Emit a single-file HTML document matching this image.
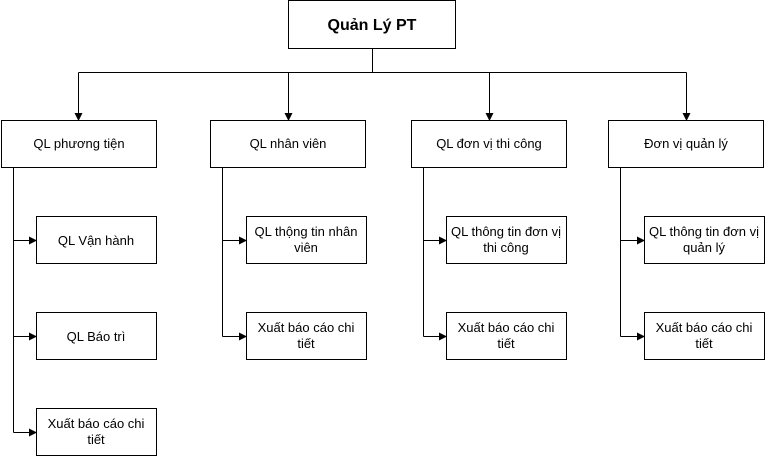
<!DOCTYPE html>
<html><head><meta charset="utf-8"><style>
html,body{margin:0;padding:0;background:#fff;}
svg text{font-family:"Liberation Sans",Arial,sans-serif;font-size:13px;fill:#000;}
</style></head><body>
<svg width="765" height="456" xmlns="http://www.w3.org/2000/svg">
<defs><marker id="a" markerWidth="8" markerHeight="8" refX="7" refY="4" orient="auto" markerUnits="userSpaceOnUse"><path d="M0,0 L8,4 L0,8 z" fill="#000"/></marker></defs>
<g fill="#fff" stroke="#000" stroke-width="1">
<rect x="288.5" y="0.5" width="167" height="48"/>
<rect x="1.5" y="120.5" width="155" height="47"/>
<rect x="210.5" y="120.5" width="155" height="47"/>
<rect x="411.5" y="120.5" width="155" height="47"/>
<rect x="608.5" y="120.5" width="155" height="47"/>
<rect x="36.5" y="216.5" width="120" height="47"/>
<rect x="36.5" y="312.5" width="120" height="47"/>
<rect x="36.5" y="408.5" width="120" height="47"/>
<rect x="246.5" y="216.5" width="120" height="47"/>
<rect x="246.5" y="312.5" width="120" height="47"/>
<rect x="446.5" y="216.5" width="120" height="47"/>
<rect x="446.5" y="312.5" width="120" height="47"/>
<rect x="644.5" y="216.5" width="120" height="47"/>
<rect x="644.5" y="312.5" width="120" height="47"/>
</g>
<g fill="none" stroke="#000" stroke-width="1">
<path d="M372.5 49V72.5M78.5 72.5H686.5"/>
<path d="M78.5 72.5V120" marker-end="url(#a)"/>
<path d="M288.5 72.5V120" marker-end="url(#a)"/>
<path d="M489.5 72.5V120" marker-end="url(#a)"/>
<path d="M686.5 72.5V120" marker-end="url(#a)"/>
<path d="M13.5 168V432.5"/>
<path d="M13.5 240.5H36" marker-end="url(#a)"/>
<path d="M13.5 336.5H36" marker-end="url(#a)"/>
<path d="M13.5 432.5H36" marker-end="url(#a)"/>
<path d="M222.5 168V336.5"/>
<path d="M222.5 240.5H246" marker-end="url(#a)"/>
<path d="M222.5 336.5H246" marker-end="url(#a)"/>
<path d="M423.5 168V336.5"/>
<path d="M423.5 240.5H446" marker-end="url(#a)"/>
<path d="M423.5 336.5H446" marker-end="url(#a)"/>
<path d="M620.5 168V336.5"/>
<path d="M620.5 240.5H644" marker-end="url(#a)"/>
<path d="M620.5 336.5H644" marker-end="url(#a)"/>
</g>
<g text-anchor="middle">
<text x="372" y="30" style="font-size:16px;font-weight:bold">Quản Lý PT</text>
<text x="79" y="148">QL phương tiện</text>
<text x="288" y="148">QL nhân viên</text>
<text x="489" y="148">QL đơn vị thi công</text>
<text x="686" y="148">Đơn vị quản lý</text>
<text x="96" y="245">QL Vận hành</text>
<text x="96" y="341">QL Báo trì</text>
<text x="96" y="428">Xuất báo cáo chi</text><text x="96" y="444">tiết</text>
<text x="306" y="236">QL thộng tin nhân</text><text x="306" y="252">viên</text>
<text x="306" y="332">Xuất báo cáo chi</text><text x="306" y="348">tiết</text>
<text x="506" y="236">QL thông tin đơn vị</text><text x="506" y="252">thi công</text>
<text x="506" y="332">Xuất báo cáo chi</text><text x="506" y="348">tiết</text>
<text x="704" y="236">QL thông tin đơn vị</text><text x="704" y="252">quản lý</text>
<text x="704" y="332">Xuất báo cáo chi</text><text x="704" y="348">tiết</text>
</g>
</svg>
</body></html>
